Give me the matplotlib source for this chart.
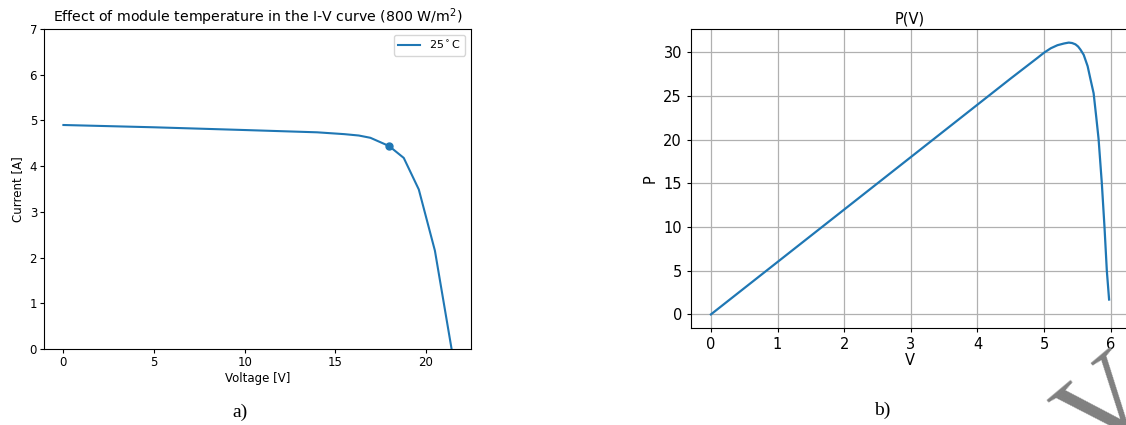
import numpy as np
import matplotlib.pyplot as plt

# I-V curve at 25 C (left)
iv_voltage = [0, 5, 10, 14, 15.5, 16.3, 16.94, 17.97, 18.78, 19.61, 20.5, 21.42]
iv_current = [4.90, 4.85, 4.79, 4.74, 4.70, 4.67, 4.62, 4.44, 4.18, 3.49, 2.15, 0.0]
mpp_v = 17.97
mpp_i = 4.44

# P(V) curve (right)
pv_voltage = [0, 1, 2, 3, 4, 4.5, 4.9, 5.0, 5.1, 5.2, 5.3, 5.37, 5.42, 5.47, 5.51, 5.545,
              5.594, 5.653, 5.693, 5.743, 5.782, 5.817, 5.866, 5.906, 5.941, 5.975]
pv_power = [0, 6.0, 12.0, 18.0, 24.0, 27.0, 29.35, 29.95, 30.45, 30.8, 31.0, 31.1, 31.05, 30.9,
            30.65, 30.3, 29.7, 28.4, 27.0, 25.3, 22.6, 20.1, 15.0, 10.0, 5.0, 1.7]

fig = plt.figure(figsize=(11.26, 4.25), dpi=100)

ax1 = fig.add_axes([44/1126, 76/425, 427/1126, 320/425])
ax1.plot(iv_voltage, iv_current, color='#1f77b4', lw=1.5, label='25$^\\circ$C')
ax1.plot(mpp_v, mpp_i, 'o', color='#1f77b4', ms=5)
ax1.set_ylim(0, 7)
ax1.set_title('Effect of module temperature in the I-V curve (800 W/m$^2$)', fontsize=10.2, pad=5)
ax1.set_xlabel('Voltage [V]', fontsize=8.5, labelpad=2)
ax1.set_ylabel('Current [A]', fontsize=8.5, labelpad=4)
ax1.tick_params(labelsize=8.5, length=3, pad=2)
ax1.legend(loc='upper right', fontsize=8)

ax2 = fig.add_axes([691/1126, 97/425, 438/1126, 299/425])
ax2.plot(pv_voltage, pv_power, color='#1f77b4', lw=1.6)
ax2.grid(True, color='#b0b0b0', lw=0.9)
ax2.set_title('P(V)', fontsize=10.5, pad=4)
ax2.set_xlabel('V', fontsize=10.5, labelpad=1)
ax2.set_ylabel('P', fontsize=10.5)
ax2.tick_params(labelsize=10.5, length=3)
ax2.set_yticks([0, 5, 10, 15, 20, 25, 30])

fig.text(240/1126, 1 - 412/425, 'a)', family='Liberation Serif', fontsize=14, ha='center', va='center')
fig.text(882/1126, 1 - 410/425, 'b)', family='Liberation Serif', fontsize=14, ha='center', va='center')

# partial watermark in the corner
fig.text(1110/1126, 1 - 410/425, 'V', family='Liberation Serif', fontsize=85, color='#808080',
         rotation=40, ha='center', va='center')

fig.savefig('out.png', dpi=100)
